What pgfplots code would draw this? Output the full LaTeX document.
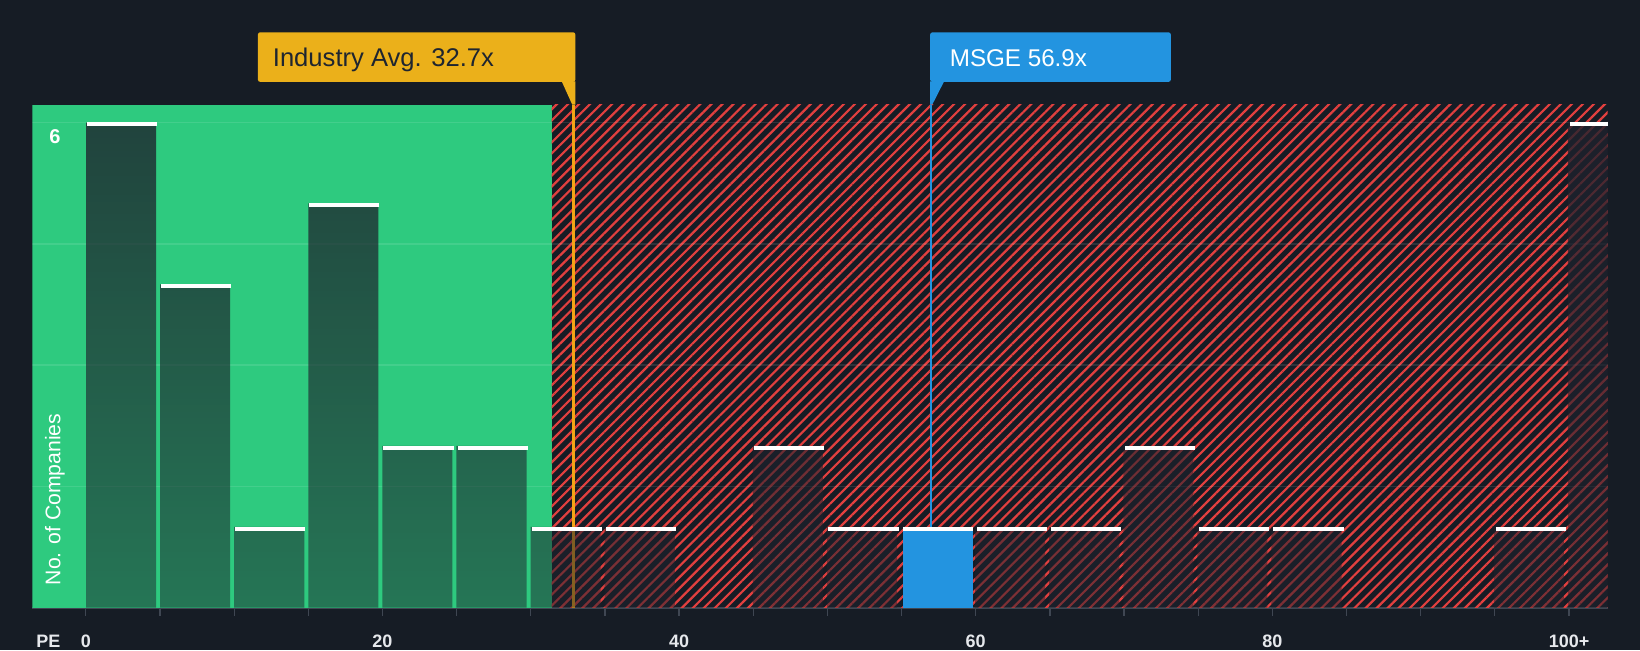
\documentclass[border=0pt]{standalone}
\usepackage{fontspec}
\setmainfont{Liberation Sans}
\usepackage{pgfplots}
\pgfplotsset{compat=1.18}
\usepackage{pgfplotstable}
\usetikzlibrary{patterns.meta,fadings,calc}
\definecolor{bg}{HTML}{161C25}
\definecolor{zonegreen}{HTML}{2ECA7F}
\definecolor{hatchred}{HTML}{E2403F}
\definecolor{barcol}{HTML}{1E222D}
\definecolor{msgeblue}{HTML}{2394E0}
\definecolor{indgold}{HTML}{EBB01A}
\definecolor{indline}{HTML}{F2A516}
\definecolor{axisgray}{HTML}{3F4652}
\definecolor{boxtext}{HTML}{1E2530}
\definecolor{labeltext}{HTML}{E6E8EC}
\tikzfading[name=barfade, top color=transparent!20, bottom color=transparent!50]

\pgfplotstableread{
x y
2.43 6
7.43 4
12.43 1
17.43 5
22.43 2
27.43 2
32.43 1
37.43 1
47.43 2
52.43 1
62.43 1
67.43 1
72.43 2
77.43 1
82.43 1
97.43 1
102.43 6
}\bars
\pgfplotstableread{
x y
57.43 1
}\msgebar
% caps (the 100+ cap is cut at the plot's right edge)
\pgfplotstableread{
x y
2.43 6
7.43 4
12.43 1
17.43 5
22.43 2
27.43 2
32.43 1
37.43 1
47.43 2
52.43 1
57.43 1
62.43 1
67.43 1
72.43 2
77.43 1
82.43 1
97.43 1
}\caps
\pgfplotstableread{
x y
101.335 6
}\lastcap

\begin{document}
\begin{tikzpicture}
\fill[bg] (0,0) rectangle (820pt,325pt);
\begin{axis}[
  at={(16.2pt,21.15pt)}, anchor=south west,
  scale only axis, width=787.6pt, height=251.5pt,
  xmin=-3.6, xmax=102.6, ymin=0, ymax=6.22,
  axis x line*=bottom, axis y line*=left,
  y axis line style={draw=none},
  x axis line style={draw=axisgray, line width=1pt},
  xtick={0,20,40,60,80,100},
  xticklabels={0,20,40,60,80,100+},
  minor x tick num=3,
  tick align=outside,
  major tick length=4pt, minor tick length=4pt,
  x tick style={draw=axisgray, line width=0.6pt},
  xticklabel style={font=\bfseries\fontsize{9}{10}\selectfont, text=labeltext, anchor=center, inner sep=0pt, yshift=-12.6pt},
  /pgf/number format/assume math mode=true,
  ytick=\empty,
]
\addplot[fill=zonegreen, draw=none] coordinates {(-3.6,6.22) (31.4,6.22)} \closedcycle;
\addplot[draw=none, pattern={Lines[angle=45,distance=3.9pt,line width=1.1pt]}, pattern color=hatchred] coordinates {(31.4,6.22) (102.6,6.22)} \closedcycle;

% grid lines
\addplot[white, opacity=0.1, line width=0.8pt] coordinates {(-3.6,1.5) (102.6,1.5)};
\addplot[white, opacity=0.1, line width=0.8pt] coordinates {(-3.6,3) (102.6,3)};
\addplot[white, opacity=0.1, line width=0.8pt] coordinates {(-3.6,4.5) (102.6,4.5)};
\addplot[white, opacity=0.1, line width=0.8pt] coordinates {(-3.6,6) (102.6,6)};

\addplot[indline, line width=1.5pt] coordinates {(32.9,0) (32.9,6.22)};
\addplot[msgeblue, line width=1pt] coordinates {(57.0,0) (57.0,6.22)};

\addplot[ybar, bar width=4.73, bar shift=0pt, fill=barcol, draw=none, path fading=barfade] table {\bars};
\addplot[ybar, bar width=4.73, bar shift=0pt, fill=msgeblue, draw=none] table {\msgebar};

\addplot[only marks, mark=-, mark size=17.54pt, mark options={draw=white, line width=2pt, yshift=-1pt}] table {\caps};
\addplot[only marks, mark=-, mark size=9.38pt, mark options={draw=white, line width=2pt, yshift=-1pt}] table {\lastcap};

\node[font=\bfseries\fontsize{10}{12}\selectfont, text=white, anchor=center] at (axis cs:-2.08,5.83) {6};
\node[rotate=90, anchor=west, font=\fontsize{10.6}{12}\selectfont, text=white] at (axis cs:-2.08,0.19) {No. of Companies};

\coordinate (pe) at (axis cs:-2.53,0);
\coordinate (indtop) at (axis cs:32.9,6.22);
\coordinate (msgetop) at (axis cs:57.0,6.22);
\end{axis}

\node[font=\bfseries\fontsize{9}{10}\selectfont, text=labeltext, anchor=center, inner sep=0pt] at ($(pe)+(0,-16.6pt)$) {PE};

% Industry label
\fill[indgold, rounded corners=1pt] ($(indtop)+(-157.9pt,11.45pt)$) rectangle ($(indtop)+(0.75pt,36.15pt)$);
\fill[indgold] ($(indtop)+(-6pt,11.6pt)$) -- ($(indtop)+(-0.75pt,0pt)$) -- ($(indtop)+(0.75pt,0pt)$) -- ($(indtop)+(0.75pt,11.6pt)$) -- cycle;
\node[anchor=base west, inner sep=0pt, font=\fontsize{12.8}{14}\selectfont, text=boxtext] at ($(indtop)+(-150.65pt,19pt)$) {Industry Avg. 32.7x};

% MSGE label
\fill[msgeblue, rounded corners=1pt] ($(msgetop)+(-0.5pt,11.45pt)$) rectangle ($(msgetop)+(119.75pt,36.15pt)$);
\fill[msgeblue] ($(msgetop)+(-0.5pt,11.6pt)$) -- ($(msgetop)+(-0.5pt,0pt)$) -- ($(msgetop)+(0.5pt,0pt)$) -- ($(msgetop)+(6.4pt,11.6pt)$) -- cycle;
\node[anchor=base west, inner sep=0pt, font=\fontsize{12.1}{14}\selectfont, text=white] at ($(msgetop)+(9.1pt,19.3pt)$) {MSGE 56.9x};

\pgfresetboundingbox
\path[use as bounding box] (0,0) rectangle (820pt,325pt);
\end{tikzpicture}
\end{document}
